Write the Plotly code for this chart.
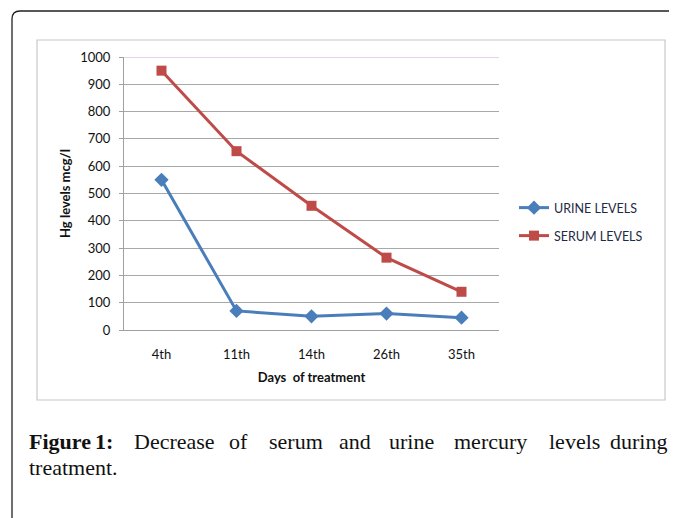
import plotly.graph_objects as go

days = ["4th", "11th", "14th", "26th", "35th"]
urine_levels = [550, 70, 50, 60, 45]
serum_levels = [950, 655, 455, 265, 140]
y_ticks = [0, 100, 200, 300, 400, 500, 600, 700, 800, 900, 1000]

OFF = 8  # page body margin
W, H = 677 - OFF, 518 - OFF
L, R, T, B = 124 - OFF, 178, 57 - OFF, 188
PW, PH = W - L - R, H - T - B

def px(x):
    return (x - OFF - L) / PW

def py(y):
    return (H - B - (y - OFF)) / PH

fig = go.Figure()
fig.add_trace(go.Scatter(
    x=days, y=urine_levels, name="URINE LEVELS", mode="lines+markers",
    line=dict(color="#4A7EBB", width=3),
    marker=dict(symbol="diamond", size=11, color="#4A7EBB"),
    legend="legend"))
fig.add_trace(go.Scatter(
    x=days, y=serum_levels, name="SERUM LEVELS", mode="lines+markers",
    line=dict(color="#BE4B48", width=3),
    marker=dict(symbol="square", size=10, color="#BE4B48"),
    legend="legend2"))

chart_font = "Lato, Open Sans, sans-serif"
leg_common = dict(font=dict(family=chart_font, size=12.5, color="#1F2A44"),
                  bgcolor="rgba(0,0,0,0)", xanchor="left", yanchor="middle",
                  itemwidth=30)

shapes = []
x0, y0 = px(12), py(11)
x1, y1 = px(700), py(540)
shapes.append(dict(type="path", xref="paper", yref="paper",
                   path=f"M {x0},{y1} L {x0},{y0 - 8/PH} Q {x0},{y0} {x0 + 8/PW},{y0} L {x1},{y0}",
                   line=dict(color="#222222", width=1.3)))
shapes.append(dict(type="rect", xref="paper", yref="paper",
                   x0=px(37), x1=px(665), y0=py(400), y1=py(40),
                   line=dict(color="#C8C8C8", width=1.2)))
shapes.append(dict(type="line", xref="paper", yref="y", x0=0, x1=1,
                   y0=y_ticks[-1], y1=y_ticks[-1],
                   line=dict(color="#C9A6CF", width=1)))

annotations = []
serif = "Liberation Serif, serif"
line1 = [("<b>Figure</b>", 27), ("<b>1:</b>", 93), ("Decrease", 132), ("of", 227),
         ("serum", 267), ("and", 337), ("urine", 387), ("mercury", 452),
         ("levels", 547), ("during", 608)]
for word, xpos in line1:
    annotations.append(dict(text=word, x=px(xpos), y=py(442), xref="paper", yref="paper",
                            xanchor="left", yanchor="middle", showarrow=False,
                            font=dict(family=serif, size=22, color="#111111")))
annotations.append(dict(text="treatment.", x=px(27), y=py(467), xref="paper", yref="paper",
                        xanchor="left", yanchor="middle", showarrow=False,
                        font=dict(family=serif, size=22, color="#111111")))

fig.update_layout(
    width=W, height=H,
    margin=dict(l=L, r=R, t=T, b=B),
    paper_bgcolor="white", plot_bgcolor="white",
    showlegend=True,
    legend=dict(x=px(514), y=py(208), **leg_common),
    legend2=dict(x=px(514), y=py(236), **leg_common),
    shapes=shapes,
    annotations=annotations,
    xaxis=dict(
        type="category", range=[-0.5, len(days) - 0.5],
        showgrid=False, showline=True, linecolor="#A0A0A0", linewidth=1,
        ticks="", tickfont=dict(family=chart_font, size=13, color="#111111"),
        ticklabelstandoff=12,
        title=dict(text="<b>Days  of treatment</b>", standoff=12,
                   font=dict(family=chart_font, size=13, color="#111111")),
        fixedrange=True),
    yaxis=dict(
        range=[0, 1000], tickvals=y_ticks,
        showgrid=True, gridcolor="#A8A8A8", gridwidth=1,
        showline=True, linecolor="#A0A0A0", linewidth=1,
        ticks="outside", ticklen=4, tickcolor="#A0A0A0",
        tickfont=dict(family=chart_font, size=13, color="#111111"),
        ticklabelstandoff=6,
        zeroline=False,
        title=dict(text="<b>Hg levels mcg/l</b>", standoff=6,
                   font=dict(family=chart_font, size=13, color="#111111")),
        fixedrange=True),
)

fig.write_html("out.html")
